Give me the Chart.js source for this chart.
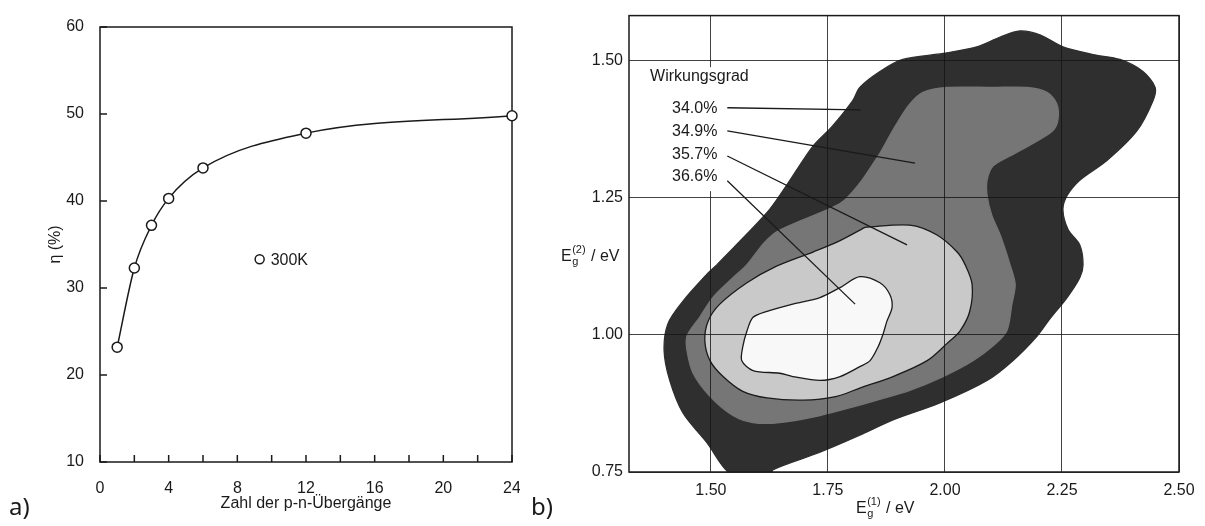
<!DOCTYPE html>
<html>
<head>
<meta charset="utf-8">
<script src="https://cdn.jsdelivr.net/npm/chart.js@4.4.0/dist/chart.umd.min.js"></script>
<style>
  html, body { margin: 0; padding: 0; background: #fff; }
  #wrap { position: relative; width: 1205px; height: 526px; }
  #chartA { position: absolute; left: 0; top: 0; }
  #chartB { position: absolute; left: 520px; top: 0; }
</style>
</head>
<body>
<div id="wrap">
  <canvas id="chartA" width="520" height="526"></canvas>
  <canvas id="chartB" width="685" height="526"></canvas>
</div>
<script>
// a) efficiency against number of p-n junctions
const junctions = [1, 2, 3, 4, 6, 12, 24]
const efficiency = [23.2, 32.3, 37.2, 40.3, 43.8, 47.8, 49.8]
const xTicksA = [0, 2, 4, 6, 8, 10, 12, 14, 16, 18, 20, 22, 24]
const yTicksA = [10, 20, 30, 40, 50, 60]

// b) efficiency contours over the two band gaps (Eg1, Eg2 in eV)
const levels = ['34.0%', '34.9%', '35.7%', '36.6%']
const contour340 = [
  [1.513, 1.128], [1.620, 1.223], [1.662, 1.273], [1.718, 1.344], [1.759, 1.380],
  [1.803, 1.427], [1.818, 1.451], [1.861, 1.480], [1.910, 1.502], [1.996, 1.513],
  [2.068, 1.525], [2.118, 1.543], [2.160, 1.554], [2.203, 1.547], [2.252, 1.525],
  [2.316, 1.511], [2.374, 1.502], [2.423, 1.480], [2.449, 1.451], [2.444, 1.426],
  [2.410, 1.372], [2.346, 1.318], [2.288, 1.282], [2.261, 1.254], [2.252, 1.228],
  [2.263, 1.192], [2.288, 1.164], [2.295, 1.128], [2.288, 1.104], [2.261, 1.068],
  [2.224, 1.029], [2.197, 0.998], [2.145, 0.953], [2.090, 0.917], [1.989, 0.876],
  [1.889, 0.845], [1.818, 0.817], [1.733, 0.786], [1.632, 0.754], [1.630, 0.745],
  [1.545, 0.745], [1.491, 0.804], [1.440, 0.858], [1.412, 0.917], [1.400, 0.971],
  [1.408, 1.020], [1.440, 1.061], [1.491, 1.110], [1.513, 1.128]
]
const contour349 = [
  [1.861, 1.331], [1.897, 1.385], [1.925, 1.421], [1.953, 1.442], [2.004, 1.451],
  [2.103, 1.451], [2.175, 1.451], [2.218, 1.442], [2.239, 1.421], [2.241, 1.390],
  [2.229, 1.371], [2.188, 1.349], [2.139, 1.326], [2.103, 1.308], [2.090, 1.282],
  [2.090, 1.254], [2.100, 1.218], [2.118, 1.182], [2.139, 1.128], [2.150, 1.092],
  [2.143, 1.056], [2.132, 1.007], [2.103, 0.980], [2.060, 0.953], [1.996, 0.924],
  [1.925, 0.899], [1.855, 0.881], [1.818, 0.872], [1.733, 0.853], [1.647, 0.840],
  [1.590, 0.840], [1.547, 0.853], [1.498, 0.888], [1.462, 0.930], [1.449, 0.971],
  [1.449, 0.998], [1.476, 1.032], [1.504, 1.068], [1.547, 1.104], [1.577, 1.128],
  [1.615, 1.169], [1.647, 1.191], [1.759, 1.232], [1.786, 1.246], [1.822, 1.281],
  [1.861, 1.331]
]
const contour357 = [
  [1.829, 1.196], [1.925, 1.200], [1.983, 1.182], [2.026, 1.151], [2.043, 1.128],
  [2.058, 1.092], [2.053, 1.043], [2.032, 1.007], [2.004, 0.984], [1.962, 0.953],
  [1.889, 0.924], [1.818, 0.903], [1.769, 0.888], [1.697, 0.881], [1.620, 0.885],
  [1.568, 0.897], [1.526, 0.924], [1.498, 0.953], [1.487, 0.989], [1.494, 1.025],
  [1.519, 1.056], [1.577, 1.095], [1.637, 1.124], [1.718, 1.151], [1.769, 1.169],
  [1.829, 1.196]
]
const contour366 = [
  [1.776, 1.086], [1.818, 1.106], [1.861, 1.095], [1.882, 1.074], [1.887, 1.050],
  [1.876, 1.025], [1.868, 1.002], [1.857, 0.978], [1.840, 0.953], [1.818, 0.942],
  [1.776, 0.924], [1.733, 0.917], [1.675, 0.924], [1.647, 0.930], [1.590, 0.935],
  [1.566, 0.953], [1.568, 0.978], [1.577, 1.007], [1.590, 1.032], [1.620, 1.043],
  [1.675, 1.056], [1.733, 1.068], [1.776, 1.086]
]
// where each level's leader line points to
const leaderTargets = [[1.82, 1.41], [1.936, 1.313], [1.919, 1.164], [1.808, 1.056]]
const xTicksB = [1.50, 1.75, 2.00, 2.25, 2.50]
const yTicksB = [0.75, 1.00, 1.25, 1.50]

const FAM = "'Liberation Sans', Arial, sans-serif"
const tickFont = { family: FAM, size: 16 }
const ink = '#1a1a1a'

const useTicks = list => scale => { scale.ticks = list.map(v => ({ value: v })) }

const frameA = {
  id: 'frameA',
  beforeDatasetsDraw(chart) {
    const { ctx, chartArea: a, scales: { x, y } } = chart
    ctx.save()
    ctx.strokeStyle = ink
    ctx.lineWidth = 1.5
    ctx.strokeRect(a.left, a.top, a.right - a.left, a.bottom - a.top)
    ctx.beginPath()
    x.ticks.forEach(t => {
      const px = x.getPixelForValue(t.value)
      ctx.moveTo(px, a.bottom)
      ctx.lineTo(px, a.bottom - 7)
    })
    y.ticks.forEach(t => {
      const py = y.getPixelForValue(t.value)
      ctx.moveTo(a.left, py)
      ctx.lineTo(a.left + 7, py)
    })
    ctx.stroke()
    ctx.restore()
  },
  afterDraw(chart) {
    const { ctx, scales: { x, y } } = chart
    ctx.save()
    const lx = x.getPixelForValue(9.3), ly = y.getPixelForValue(33.3)
    ctx.strokeStyle = ink
    ctx.lineWidth = 1.5
    ctx.beginPath()
    ctx.arc(lx, ly, 4.5, 0, Math.PI * 2)
    ctx.fillStyle = '#fff'
    ctx.fill()
    ctx.stroke()
    ctx.fillStyle = ink
    ctx.font = '16px ' + FAM
    ctx.textBaseline = 'middle'
    ctx.fillText('300K', lx + 11, ly + 1)
    ctx.font = "24px 'Noto Sans', sans-serif"
    ctx.textBaseline = 'alphabetic'
    ctx.fillText('a)', 9, 515)
    ctx.restore()
  }
}

new Chart('chartA', {
  type: 'line',
  data: {
    datasets: [{
      data: junctions.map((n, i) => ({ x: n, y: efficiency[i] })),
      borderColor: ink,
      borderWidth: 1.5,
      cubicInterpolationMode: 'monotone',
      pointRadius: 5,
      pointBackgroundColor: '#fff',
      pointBorderColor: ink,
      pointBorderWidth: 1.5,
      clip: false
    }]
  },
  options: {
    responsive: false,
    animation: false,
    layout: { padding: { top: 27, right: 8, left: 0, bottom: 0 } },
    plugins: { legend: { display: false }, tooltip: { enabled: false } },
    scales: {
      x: {
        type: 'linear', min: 0, max: 24,
        afterBuildTicks: useTicks(xTicksA),
        afterFit: s => { s.height = 64; s.paddingLeft = 0; s.paddingRight = 0 },
        grid: { display: false },
        border: { display: false },
        ticks: { font: tickFont, color: ink, padding: 9, autoSkip: false, maxRotation: 0,
                 callback: v => (v % 4 === 0 ? v : '') },
        title: { display: true, text: 'Zahl der p-n-Übergänge', font: tickFont, color: ink,
                 padding: { bottom: 13 } }
      },
      y: {
        min: 10, max: 60,
        afterBuildTicks: useTicks(yTicksA),
        afterFit: s => { s.width = 100 },
        grid: { display: false },
        border: { display: false },
        ticks: { font: tickFont, color: ink, padding: 8 },
        title: { display: true, text: 'η (%)', font: tickFont, color: ink, padding: { top: 46 } }
      }
    }
  },
  plugins: [frameA]
})

function drawEg(ctx, n, x, baseline) {
  ctx.font = '16px ' + FAM
  ctx.fillText('E', x, baseline)
  const w = ctx.measureText('E').width + 0.5
  ctx.font = '11px ' + FAM
  ctx.fillText('g', x + w, baseline + 4)
  ctx.fillText('(' + n + ')', x + w, baseline - 8)
  const adv = Math.max(ctx.measureText('g').width, ctx.measureText('(' + n + ')').width)
  ctx.font = '16px ' + FAM
  ctx.fillText(' / eV', x + w + adv + 1, baseline)
}

const annotB = {
  id: 'annotB',
  afterDraw(chart) {
    const { ctx, chartArea: a, scales: { x, y } } = chart
    ctx.save()
    // label area hides the grid behind it
    const bx0 = x.getPixelForValue(1.36), bx1 = x.getPixelForValue(1.58)
    const by0 = y.getPixelForValue(1.488), by1 = y.getPixelForValue(1.262)
    ctx.fillStyle = '#fff'
    ctx.fillRect(bx0, by0, bx1 - bx0, by1 - by0)

    ctx.strokeStyle = ink
    ctx.lineWidth = 1.5
    ctx.strokeRect(a.left, a.top, a.right - a.left, a.bottom - a.top)

    ctx.fillStyle = ink
    ctx.font = '16px ' + FAM
    ctx.textBaseline = 'middle'
    ctx.fillText('Wirkungsgrad', x.getPixelForValue(1.370), y.getPixelForValue(1.471))
    const labelY = [1.412, 1.371, 1.329, 1.288]
    const startY = [1.414, 1.372, 1.326, 1.281]
    ctx.lineWidth = 1.3
    levels.forEach((lab, i) => {
      ctx.fillText(lab, x.getPixelForValue(1.417), y.getPixelForValue(labelY[i]))
      ctx.beginPath()
      ctx.moveTo(x.getPixelForValue(1.535), y.getPixelForValue(startY[i]))
      ctx.lineTo(x.getPixelForValue(leaderTargets[i][0]), y.getPixelForValue(leaderTargets[i][1]))
      ctx.stroke()
    })

    ctx.textBaseline = 'alphabetic'
    drawEg(ctx, 2, 41, 261)
    drawEg(ctx, 1, 336, 513)
    ctx.font = "24px 'Noto Sans', sans-serif"
    ctx.fillText('b)', 11, 515)
    ctx.restore()
  }
}

const region = (pts, fillColor, lineColor, order) => ({
  data: pts.map(([ex, ey]) => ({ x: ex, y: ey })),
  fill: 'shape',
  backgroundColor: fillColor,
  borderColor: lineColor,
  borderWidth: 1.3,
  pointRadius: 0,
  tension: 0.3,
  order: order
})

new Chart('chartB', {
  type: 'line',
  data: {
    datasets: [
      region(contour340, '#2f2f2f', '#2f2f2f', 4),
      region(contour349, '#767676', '#767676', 3),
      region(contour357, '#c9c9c9', ink, 2),
      region(contour366, '#f8f8f8', ink, 1)
    ]
  },
  options: {
    responsive: false,
    animation: false,
    layout: { padding: { top: 10, right: 26, left: 0, bottom: 0 } },
    plugins: { legend: { display: false }, tooltip: { enabled: false } },
    scales: {
      x: {
        type: 'linear', min: 1.325, max: 2.5,
        afterBuildTicks: useTicks(xTicksB),
        afterFit: s => { s.height = 54 },
        grid: { color: 'rgba(20,20,20,0.8)', lineWidth: 1, drawTicks: false, z: 1 },
        border: { display: false },
        ticks: { font: tickFont, color: ink, padding: 9, maxRotation: 0,
                 callback: v => v.toFixed(2) }
      },
      y: {
        type: 'linear', min: 0.75, max: 1.582,
        afterBuildTicks: useTicks(yTicksB),
        afterFit: s => { s.width = 109 },
        grid: { color: 'rgba(20,20,20,0.8)', lineWidth: 1, drawTicks: false, z: 1 },
        border: { display: false },
        ticks: { font: tickFont, color: ink, padding: 6, callback: v => v.toFixed(2) }
      }
    }
  },
  plugins: [annotB]
})
</script>
</body>
</html>
